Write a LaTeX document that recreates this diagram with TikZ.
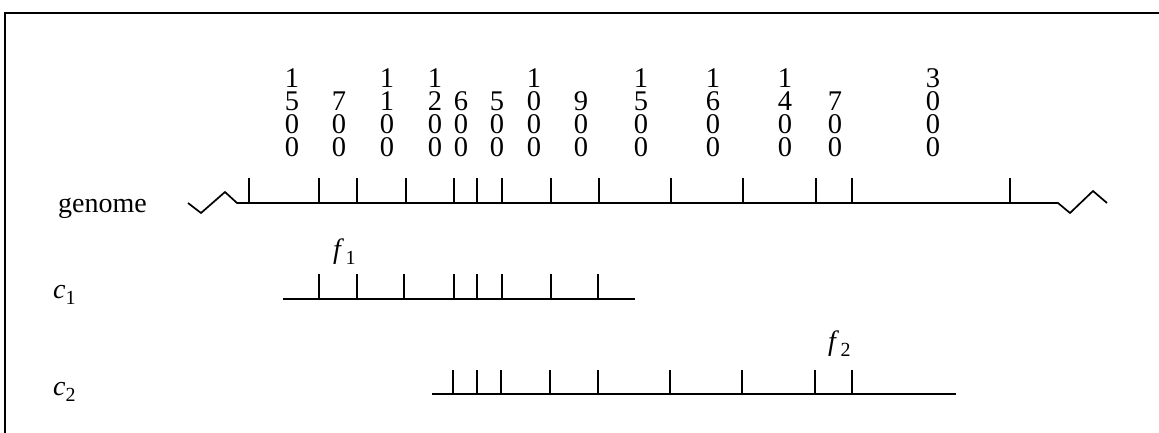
\documentclass[tikz,border=0pt]{standalone}
\usepackage{fontspec}
\setmainfont{Liberation Serif}
\newcommand\lowsub[1]{\raisebox{-0.24em}{\upshape\fontsize{20}{20}\selectfont #1}}
\begin{document}
\begin{tikzpicture}[x=1pt,y=-1pt,
  rule/.style={line width=1.7pt, line join=miter},
  cut/.style={line width=1.6pt},
  digits/.style={inner sep=0pt, anchor=south, align=center,
                 font=\fontsize{28.5}{23}\selectfont},
  lbl/.style={inner sep=0pt, anchor=base west, font=\fontsize{28}{28}\selectfont}]
\useasboundingbox (0,0) rectangle (1159,433);

% frame (top and left edges)
\draw[line width=2pt] (5,433) -- (5,13) -- (1159,13);

% genome with broken ends and restriction sites
\draw[rule] (188,203) -- (201,213) -- (225,192) -- (237,203) -- (1058,203)
            -- (1070,213) -- (1093,191) -- (1107,203);
\foreach \x in {249,319,357,406,454,477,502,551,599,671,743,816,852,1010}
  \draw[cut] (\x,203) -- (\x,178);

% fragment lengths, written vertically
\node[digits] (l1)  at (292,157) {1\\5\\0\\0};
\node[digits] (l2)  at (339,157) {7\\0\\0};
\node[digits] (l3)  at (387,157) {1\\1\\0\\0};
\node[digits] (l4)  at (435,157) {1\\2\\0\\0};
\node[digits] (l5)  at (461,157) {6\\0\\0};
\node[digits] (l6)  at (497,157) {5\\0\\0};
\node[digits] (l7)  at (534,157) {1\\0\\0\\0};
\node[digits] (l8)  at (581,157) {9\\0\\0};
\node[digits] (l9)  at (641,157) {1\\5\\0\\0};
\node[digits] (l10) at (713,157) {1\\6\\0\\0};
\node[digits] (l11) at (785,157) {1\\4\\0\\0};
\node[digits] (l12) at (835,157) {7\\0\\0};
\node[digits] (l13) at (933,157) {3\\0\\0\\0};

% row labels
\node[lbl] (genome) at (58,212) {genome};
\node[lbl] (c1) at (53,298) {\itshape c\lowsub{1}};
\node[lbl] (c2) at (53,395) {\itshape c\lowsub{2}};

% clone c1
\draw[rule] (283,299) -- (635,299);
\foreach \x in {319,357,404,454,477,502,551,598}
  \draw[cut] (\x,299) -- (\x,274);
\node[lbl] (f1) at (333,258) {\itshape f\,\lowsub{1}};

% clone c2
\draw[rule] (432,394) -- (956,394);
\foreach \x in {453,477,501,550,598,670,742,815,852}
  \draw[cut] (\x,394) -- (\x,370);
\node[lbl] (f2) at (828,350) {\itshape f\,\lowsub{2}};
\end{tikzpicture}
\end{document}
